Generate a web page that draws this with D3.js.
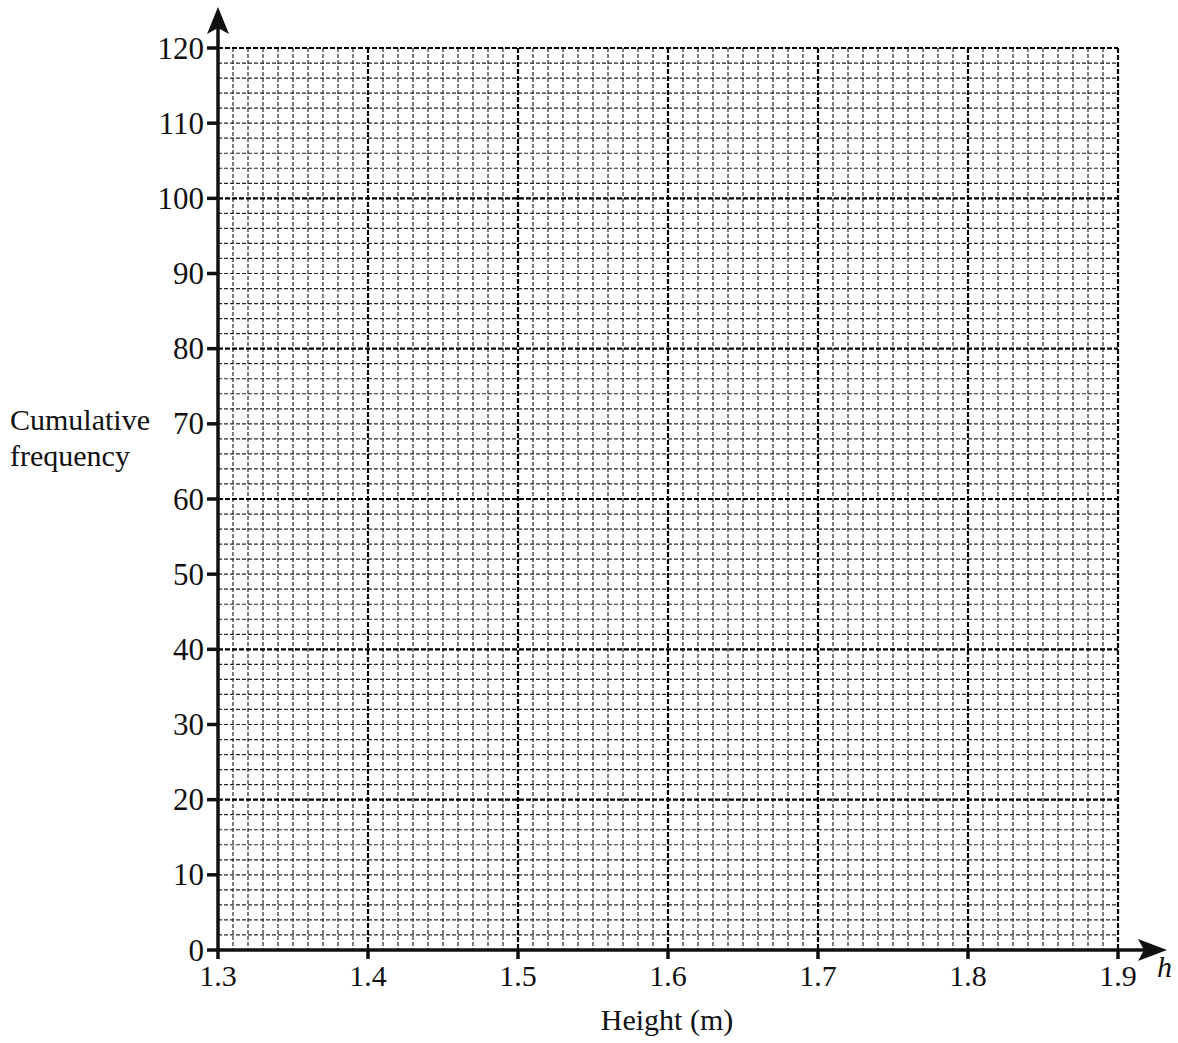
<!DOCTYPE html>
<html><head><meta charset="utf-8">
<script src="https://cdn.jsdelivr.net/npm/d3@7"></script>
<style>body{margin:0;background:#fff}svg{display:block}</style>
</head><body>
<script>
const xTicks = [1.3, 1.4, 1.5, 1.6, 1.7, 1.8, 1.9];
const yTicks = [0, 10, 20, 30, 40, 50, 60, 70, 80, 90, 100, 110, 120];
const xDomain = [1.3, 1.9];
const yDomain = [0, 120];
const xMinorStep = 0.01, yMinorStep = 2;
const xMajorStep = 0.1, yMajorStep = 20;
const yTitle = ["Cumulative", "frequency"];
const xTitle = "Height (m)";
const xVar = "h";

const W = 1178, H = 1043;
const svg = d3.select("body").append("svg").attr("width", W).attr("height", H);
const x = d3.scaleLinear().domain(xDomain).range([218, 1118]);
const y = d3.scaleLinear().domain(yDomain).range([950, 48]);
const font = "Liberation Serif, Times New Roman, serif";

const g = svg.append("g");
const nx = Math.round((xDomain[1]-xDomain[0])/xMinorStep);
const ny = Math.round((yDomain[1]-yDomain[0])/yMinorStep);
const xs = d3.range(0, nx+1).map(i => +(xDomain[0] + i*xMinorStep).toFixed(4));
const ys = d3.range(0, ny+1).map(i => yDomain[0] + i*yMinorStep);
const isMajX = v => Math.abs(Math.round((v-xDomain[0])/xMajorStep)*xMajorStep - (v-xDomain[0])) < 1e-6;
const isMajY = v => (v - yDomain[0]) % yMajorStep === 0;

// minor lines
g.selectAll("line.vx").data(xs.filter(v => !isMajX(v))).join("line")
  .attr("x1", d => x(d)).attr("x2", d => x(d)).attr("y1", y(yDomain[1])).attr("y2", y(yDomain[0]))
  .attr("stroke", "#262626").attr("stroke-width", 1.2).attr("stroke-dasharray", "4,2");
g.selectAll("line.hy").data(ys.filter(v => !isMajY(v))).join("line")
  .attr("y1", d => y(d)).attr("y2", d => y(d)).attr("x1", x(xDomain[0])).attr("x2", x(xDomain[1]))
  .attr("stroke", "#262626").attr("stroke-width", 1.2).attr("stroke-dasharray", "4,2");
// major lines
g.selectAll("line.mx").data(xs.filter(v => isMajX(v) && v > xDomain[0])).join("line")
  .attr("x1", d => x(d)).attr("x2", d => x(d)).attr("y1", y(yDomain[1])).attr("y2", y(yDomain[0]))
  .attr("stroke", "#000").attr("stroke-width", 2.2).attr("stroke-dasharray", "5,2");
g.selectAll("line.my").data(ys.filter(v => isMajY(v) && v > yDomain[0])).join("line")
  .attr("y1", d => y(d)).attr("y2", d => y(d)).attr("x1", x(xDomain[0])).attr("x2", x(xDomain[1]))
  .attr("stroke", "#000").attr("stroke-width", 2.2).attr("stroke-dasharray", "5,2");

// axes
const ax = svg.append("g");
const ax0 = x(xDomain[0]), ay0 = y(yDomain[0]);
ax.append("line").attr("x1", ax0).attr("x2", 1150).attr("y1", ay0).attr("y2", ay0)
  .attr("stroke", "#111").attr("stroke-width", 3.5);
ax.append("path").attr("d", `M1167,${ay0} L1138,${ay0-11} L1144,${ay0} L1138,${ay0+11} Z`).attr("fill", "#111");
ax.append("line").attr("x1", ax0).attr("x2", ax0).attr("y1", ay0+1.5).attr("y2", 25)
  .attr("stroke", "#111").attr("stroke-width", 3.5);
ax.append("path").attr("d", `M${ax0},7 L${ax0-11},34 L${ax0},28 L${ax0+11},34 Z`).attr("fill", "#111");

// y ticks
ax.selectAll("line.yt").data(yTicks).join("line")
  .attr("x1", ax0-11).attr("x2", ax0).attr("y1", d => y(d)).attr("y2", d => y(d))
  .attr("stroke", "#111").attr("stroke-width", 3.5);
ax.selectAll("text.yl").data(yTicks).join("text")
  .attr("x", ax0-14).attr("y", d => y(d)).attr("dy", "0.34em")
  .attr("text-anchor", "end").attr("font-family", font).attr("font-size", 31).attr("fill", "#111")
  .text(d => d);
// x ticks
ax.selectAll("line.xt").data(xTicks).join("line")
  .attr("x1", d => x(d)).attr("x2", d => x(d)).attr("y1", ay0).attr("y2", ay0+9)
  .attr("stroke", "#111").attr("stroke-width", 3.5);
ax.selectAll("text.xl").data(xTicks).join("text")
  .attr("x", d => x(d)).attr("y", 986)
  .attr("text-anchor", "middle").attr("font-family", font).attr("font-size", 30).attr("fill", "#111")
  .text(d => d.toFixed(1));

// titles
svg.append("text").attr("y", 430).attr("font-family", font).attr("font-size", 30).attr("fill", "#111")
  .selectAll("tspan").data(yTitle).join("tspan").attr("x", 10).attr("dy", (d,i) => i ? 36 : 0).text(d => d);
svg.append("text").attr("x", 667).attr("y", 1030).attr("text-anchor", "middle")
  .attr("font-family", font).attr("font-size", 30).attr("fill", "#111").text(xTitle);
svg.append("text").attr("x", 1157).attr("y", 977).attr("font-family", font).attr("font-style", "italic")
  .attr("font-size", 30).attr("fill", "#111").text(xVar);
</script>
</body></html>
